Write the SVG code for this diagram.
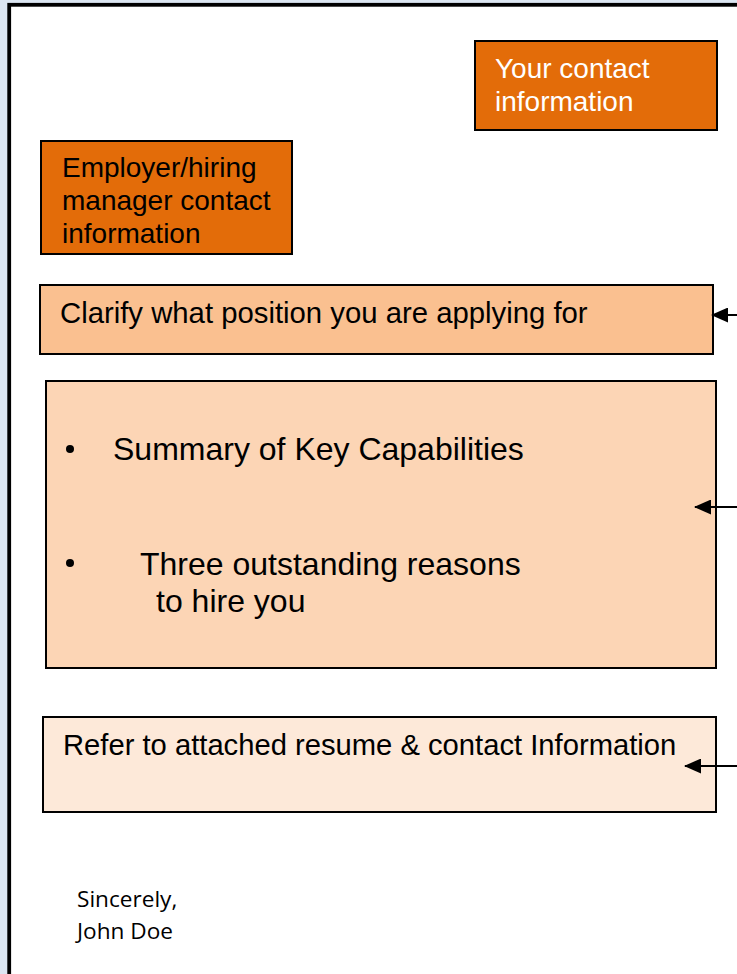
<svg xmlns="http://www.w3.org/2000/svg" width="737" height="974" viewBox="0 0 737 974">
<defs>
<style>
.box{stroke:#000;stroke-width:2}
.t{font-family:"Liberation Sans",Arial,sans-serif;fill:#000}
.w{fill:#fff}
.c{stroke:#000;stroke-width:2;fill:none}
.sig{font-family:"Open Sans","Liberation Sans",sans-serif;font-size:22.6px;fill:#000}
</style>
<marker id="ah" markerWidth="17" markerHeight="15" refX="16" refY="7.5" orient="auto" markerUnits="userSpaceOnUse">
<path d="M0,0 L17,7.5 L0,15 Z" fill="#000"/>
</marker>
</defs>
<rect x="0" y="0" width="737" height="974" fill="#dce6f2"/>
<rect x="9.2" y="4.8" width="740" height="980" fill="#fff" stroke="#000" stroke-width="3.8"/>
<g id="your-contact">
<rect class="box" x="475" y="41" width="242" height="89" fill="#e36c09"/>
<text class="t w" font-size="28" x="495" y="78">Your contact</text>
<text class="t w" font-size="28" x="495" y="111">information</text>
</g>
<g id="employer">
<rect class="box" x="41" y="141" width="251" height="113" fill="#e36c09"/>
<text class="t" font-size="28" x="62" y="177">Employer/hiring</text>
<text class="t" font-size="28" x="62" y="210">manager contact</text>
<text class="t" font-size="28" x="62" y="243">information</text>
</g>
<g id="clarify">
<rect class="box" x="40" y="285" width="673" height="69" fill="#fac090"/>
<text class="t" font-size="29.3" x="60" y="323">Clarify what position you are applying for</text>
</g>
<g id="summary">
<rect class="box" x="46" y="381" width="670" height="287" fill="#fcd5b5"/>
<circle cx="70" cy="449" r="4" fill="#000"/>
<text class="t" font-size="32" x="113" y="460">Summary of Key Capabilities</text>
<circle cx="70" cy="563" r="4" fill="#000"/>
<text class="t" font-size="32" x="140" y="575">Three outstanding reasons</text>
<text class="t" font-size="32" x="156" y="612">to hire you</text>
</g>
<g id="refer">
<rect class="box" x="43" y="717" width="673" height="95" fill="#fde9d9"/>
<text class="t" font-size="29.2" x="63" y="755">Refer to attached resume &amp; contact Information</text>
</g>
<g id="signature">
<text class="sig" x="77" y="907">Sincerely,</text>
<text class="sig" x="77" y="939">John Doe</text>
</g>
<g id="connectors">
<line class="c" x1="740" y1="315" x2="712" y2="315" marker-end="url(#ah)"/>
<line class="c" x1="740" y1="507" x2="695" y2="507" marker-end="url(#ah)"/>
<line class="c" x1="740" y1="766" x2="685" y2="766" marker-end="url(#ah)"/>
</g>
</svg>
